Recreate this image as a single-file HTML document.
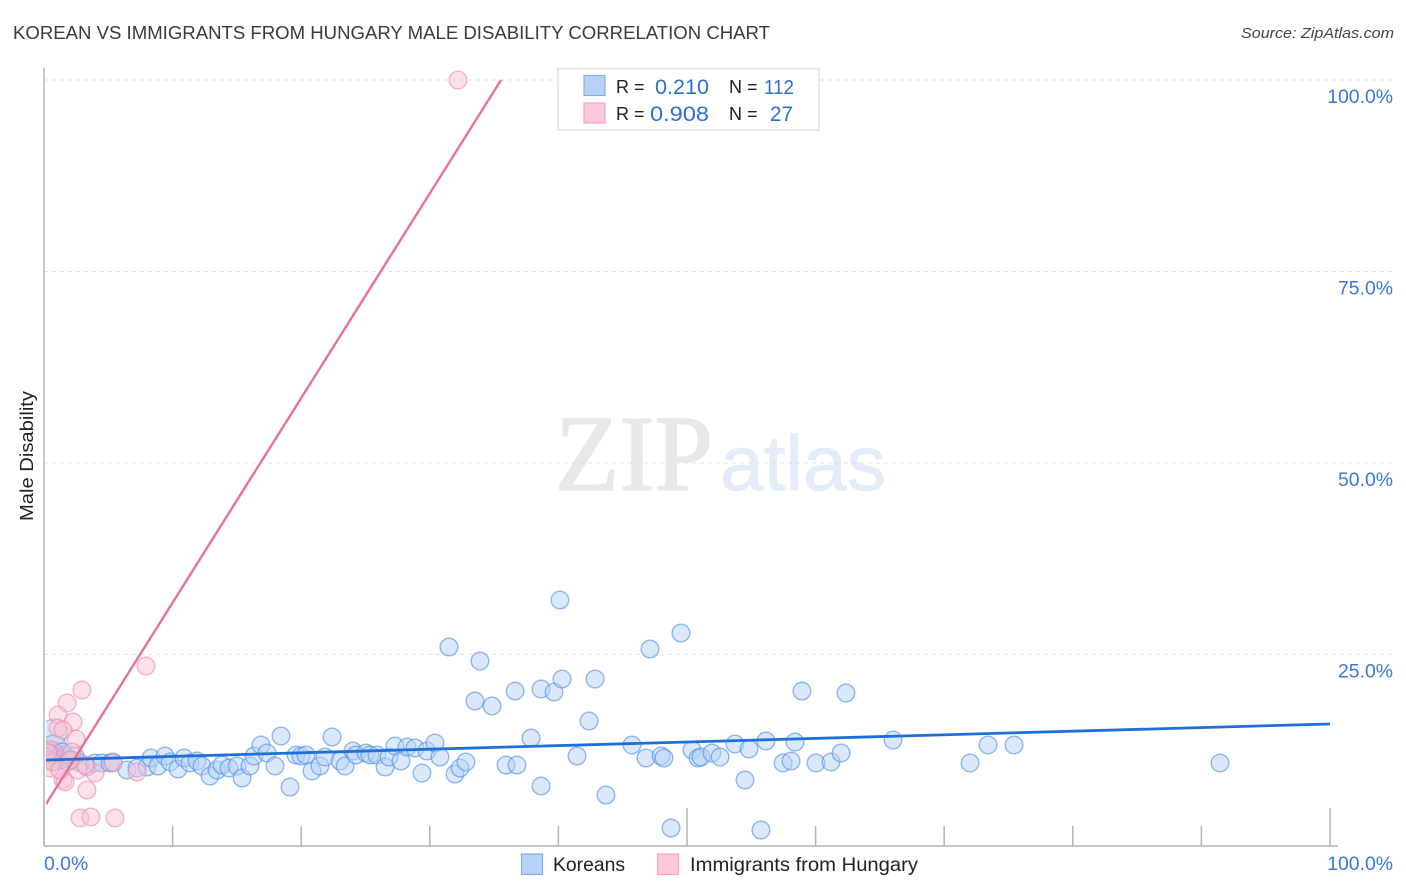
<!DOCTYPE html>
<html lang="en">
<head>
<meta charset="utf-8">
<title>Korean vs Immigrants from Hungary Male Disability Correlation Chart</title>
<style>
html,body{margin:0;padding:0;background:#fff;width:1406px;height:892px;overflow:hidden}
svg{display:block}
text{font-family:"Liberation Sans",sans-serif}
</style>
</head>
<body>
<svg id="chart" width="1406" height="892" viewBox="0 0 1406 892" xmlns="http://www.w3.org/2000/svg">
  <defs>
    <clipPath id="plot-clip"><rect x="46" y="60" width="1300" height="786"/></clipPath>
  </defs>
  <text x="13" y="39" font-size="18" fill="#3a3a3a" textLength="757" lengthAdjust="spacingAndGlyphs">KOREAN VS IMMIGRANTS FROM HUNGARY MALE DISABILITY CORRELATION CHART</text>
  <text x="1241" y="38" font-size="15" font-style="italic" fill="#444" textLength="153" lengthAdjust="spacingAndGlyphs">Source: ZipAtlas.com</text>
  <text x="555" y="490" font-size="108" fill="#e8e8e8" stroke="#e8e8e8" stroke-width="1.6" style="font-family:'Liberation Serif',serif" textLength="158" lengthAdjust="spacingAndGlyphs">ZIP</text>
  <text x="720" y="490" font-size="78" fill="#e3ecf9" stroke="#e3ecf9" stroke-width="0.8" textLength="166" lengthAdjust="spacingAndGlyphs">atlas</text>
  <g id="grid"></g>
  <g id="axes"></g>
  <g id="marks" clip-path="url(#plot-clip)"></g>
  <text transform="translate(33,456) rotate(-90)" text-anchor="middle" font-size="18" fill="#222" textLength="130" lengthAdjust="spacingAndGlyphs">Male Disability</text>

  <g>
    <rect x="558" y="68.5" width="261" height="61.5" fill="#fff" fill-opacity="0.9" stroke="#e2e2e2" stroke-width="1.5"/>
    <rect x="584" y="75.5" width="21" height="20" fill="#b6d2f7" stroke="#80aee8" stroke-width="1.2"/>
    <rect x="584" y="103" width="21" height="20" fill="#fdc8d9" stroke="#f3a5bf" stroke-width="1.2"/>
    <text x="616" y="93" font-size="18" fill="#222">R =</text>
    <text x="655" y="94" font-size="21" fill="#2f6fd0" textLength="54" lengthAdjust="spacingAndGlyphs">0.210</text>
    <text x="729" y="93" font-size="18" fill="#222">N =</text>
    <text x="764" y="94" font-size="20" fill="#2f6fd0" textLength="30" lengthAdjust="spacingAndGlyphs">112</text>
    <text x="616" y="120" font-size="18" fill="#222">R =</text>
    <text x="650" y="121" font-size="21" fill="#2f6fd0" textLength="59" lengthAdjust="spacingAndGlyphs">0.908</text>
    <text x="729" y="120" font-size="18" fill="#222">N =</text>
    <text x="770" y="121" font-size="21" fill="#2f6fd0" textLength="23" lengthAdjust="spacingAndGlyphs">27</text>
  </g>

  <g>
    <rect x="521.5" y="854" width="21" height="20.5" fill="#b6d2f7" stroke="#80aee8" stroke-width="1.2"/>
    <text x="553" y="871" font-size="19" fill="#222" textLength="72" lengthAdjust="spacingAndGlyphs">Koreans</text>
  </g>
  <g>
    <rect x="657.5" y="854" width="21" height="20.5" fill="#fdc8d9" stroke="#f3a5bf" stroke-width="1.2"/>
    <text x="690" y="871" font-size="19" fill="#222" textLength="228" lengthAdjust="spacingAndGlyphs">Immigrants from Hungary</text>
  </g>
</svg>
<script>
const yTickValues = [100, 75, 50, 25];
const yTickLabels = ["100.0%", "75.0%", "50.0%", "25.0%"];
const xTickValues = [0, 10, 20, 30, 40, 50, 60, 70, 80, 90, 100];
const xMajorTicks = [0, 50, 100];
const xEndValues = [0, 100];
const xEndLabels = ["0.0%", "100.0%"];

const koreanX = [1.09,1.63,2.18,2.80,3.34,3.97,4.51,5.13,5.37,6.45,7.23,8.01,8.32,8.86,9.41,9.80,10.42,10.89,11.35,11.90,12.29,12.91,13.45,13.84,14.39,15.01,15.40,16.02,16.33,16.87,17.34,17.96,18.43,19.13,19.60,19.98,20.37,20.84,21.46,21.85,22.40,23.02,23.41,24.03,24.26,25.04,25.35,25.89,26.52,26.83,27.29,27.76,28.23,28.85,29.39,29.78,30.40,30.79,31.49,31.96,32.35,32.81,33.51,33.90,34.84,35.93,36.63,36.78,37.87,38.65,38.65,39.66,40.12,40.28,41.45,42.38,42.85,43.70,45.72,46.81,47.12,47.98,48.21,48.76,49.53,50.39,50.86,51.09,51.94,52.57,53.73,54.51,54.82,55.75,56.14,57.47,58.09,58.40,58.94,60.03,61.20,61.98,62.36,66.02,72.01,73.41,75.43,91.45,0.31,0.47,0.62,0.86,1.24,1.40,1.87,2.41];
const koreanY = [11.62,11.88,11.23,10.84,10.31,10.84,10.84,10.84,10.97,9.92,10.18,10.31,11.49,10.44,11.75,10.97,10.05,11.49,10.84,11.10,10.44,9.14,9.92,10.57,10.18,10.44,8.88,10.44,11.75,13.19,12.14,10.44,14.36,7.70,11.88,11.75,11.88,9.79,10.44,11.62,14.23,11.10,10.44,12.40,11.88,12.14,11.88,11.88,10.31,11.62,13.05,11.10,12.92,12.79,9.53,12.40,13.45,11.62,25.98,9.40,10.18,10.97,18.93,24.15,18.28,10.57,20.23,10.57,14.10,20.50,7.83,20.10,32.11,21.80,11.75,16.32,21.80,6.66,13.19,11.49,25.72,11.75,11.49,2.35,27.81,12.53,11.49,11.62,12.14,11.62,13.32,8.62,12.66,2.09,13.71,10.84,11.10,13.58,20.23,10.84,10.97,12.14,19.97,13.84,10.84,13.19,13.19,10.84,11.49,11.23,11.88,10.97,11.23,12.27,10.97,11.75];
const koreanLargeX = [0.78,0.78];
const koreanLargeY = [14.88,12.79];
const koreanTrendX = [0.16,100];
const koreanTrendY = [11.23,15.93];

const hungaryX = [32.19,7.93,2.95,1.79,1.09,2.26,1.09,1.48,2.49,2.18,3.34,2.80,3.65,5.52,1.48,1.63,3.97,7.23,2.64,5.37,3.19,0.47,0.62,0.31,2.02,1.24];
const hungaryY = [100,23.5,20.37,18.67,17.10,16.19,15.40,15.14,13.97,12.27,7.31,3.66,3.79,3.66,8.62,8.36,9.53,9.66,9.92,10.84,10.57,10.18,10.97,12.14,11.23,9.92];
const hungaryLargeX = [0.47];
const hungaryLargeY = [11.88];
const hungaryTrendX = [0.16,35.54];
const hungaryTrendY = [5.48,100];

const SVGNS = "http://www.w3.org/2000/svg";
function xAxis(v){ return 44 + v * 12.86; }
function yAxis(v){ return 846 - v * 7.66; }
function make(tag, parent, attrs){
  const el = document.createElementNS(SVGNS, tag);
  for (const k in attrs) el.setAttribute(k, attrs[k]);
  parent.appendChild(el);
  return el;
}
const grid = document.getElementById("grid");
const axes = document.getElementById("axes");
const marks = document.getElementById("marks");

yTickValues.forEach(function(v, i){
  const line = make("line", grid, {x1:44, x2:1393, y1:yAxis(v), y2:yAxis(v), stroke:"#e0e0e0", "stroke-width":1, "stroke-dasharray":"4 4"});
  
  
  const label = make("text", axes, {x:1393, y:yAxis(v)+23, "text-anchor":"end", "font-size":19.4, fill:"#3a78d6"});
  label.textContent = yTickLabels[i];
  
  
});

const yAxisLine = make("line", axes, {x1:44, x2:44, y1:68, y2:846, stroke:"#b4b4b4", "stroke-width":1.5});


const xAxisLine = make("line", axes, {x1:44, x2:1338, y1:846, y2:846, stroke:"#b4b4b4", "stroke-width":1.5});



xTickValues.forEach(function(v){
  const top = xMajorTicks.indexOf(v) >= 0 ? 808 : 826;
  const tick = make("line", axes, {x1:xAxis(v), x2:xAxis(v), y1:top, y2:846, stroke:"#b4b4b4", "stroke-width":1.5});
  
  
});
xEndValues.forEach(function(v, i){
  const label = make("text", axes, {x: i === 0 ? 44 : 1393, y:870, "text-anchor": i === 0 ? "start" : "end", "font-size":19.4, fill:"#3a78d6"});
  label.textContent = xEndLabels[i];
  
  
});

function drawPoints(xs, ys, r, fill, stroke, name){
  xs.forEach(function(x, i){
    const c = make("circle", marks, {cx:xAxis(x), cy:yAxis(ys[i]), r:r, fill:fill, "fill-opacity":0.5, stroke:stroke, "stroke-opacity":0.62, "stroke-width":1.4});
    
    
  });
}
function drawTrend(xs, ys, color, width, name){
  const l = make("line", marks, {x1:xAxis(xs[0]), y1:yAxis(ys[0]), x2:xAxis(xs[1]), y2:yAxis(ys[1]), stroke:color, "stroke-width":width});
  
  
}
drawPoints(koreanLargeX, koreanLargeY, 13, "#b5d1f6", "#6ba2e8", "korean-point-large");
drawPoints(koreanX, koreanY, 8.8, "#b5d1f6", "#4f8fe3", "korean-point");
drawPoints(hungaryLargeX, hungaryLargeY, 14, "#f5a3bd", "#ee8aa9", "hungary-point-large");
drawPoints(hungaryX, hungaryY, 8.8, "#fcc4d6", "#ee8aa9", "hungary-point");
drawTrend(hungaryTrendX, hungaryTrendY, "#e8709a", 2.4, "hungary-trend-line");
drawTrend(koreanTrendX, koreanTrendY, "#1f6fd8", 2.8, "korean-trend-line");
</script>
</body>
</html>
